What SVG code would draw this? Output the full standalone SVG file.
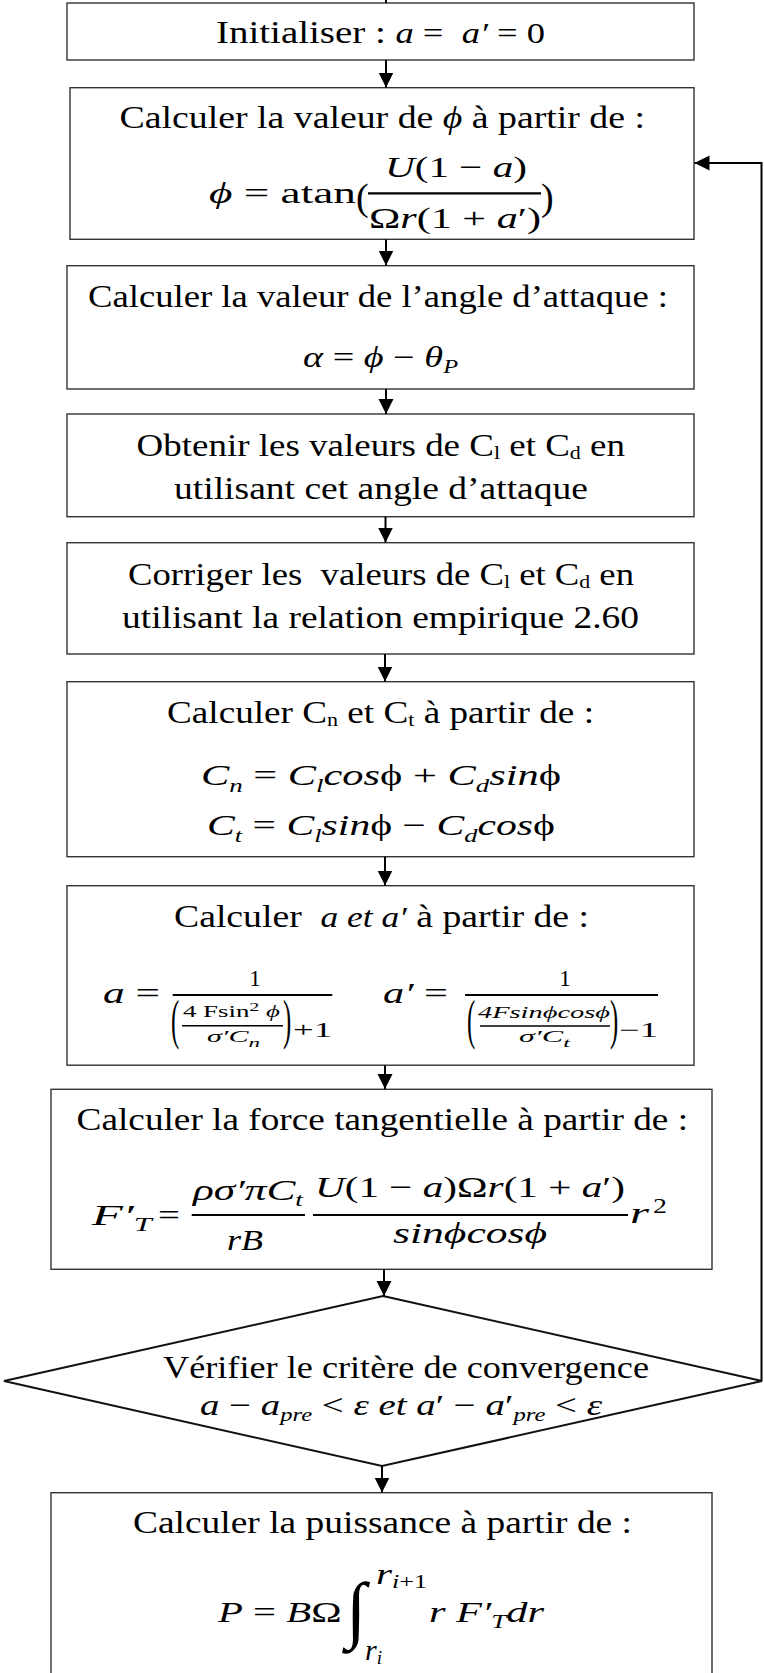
<svg xmlns="http://www.w3.org/2000/svg" width="764" height="1673" viewBox="0 0 764 1673">
<defs>
<marker id="ah" markerUnits="userSpaceOnUse" markerWidth="16" markerHeight="16" refX="15" refY="7.5" orient="auto">
<path d="M0,0 L15,7.5 L0,15 z" fill="#000"/>
</marker>
<style>
.box{fill:#fff;stroke:#333;stroke-width:1.4}
.dia{fill:#fff;stroke:#111;stroke-width:2}
.c{fill:none;stroke:#000;stroke-width:2}
.a{marker-end:url(#ah)}
text{fill:#000}
.t{font-family:"Liberation Serif",serif;font-size:32px}
.m{font-family:"Liberation Serif",serif;font-size:30px}
.i{font-style:italic}
.n{font-style:normal}
.s{font-size:19px}
.bar{stroke:#000;stroke-width:2.2}
.bar2{stroke:#000;stroke-width:1.5}
.p{font-family:"Liberation Serif",serif;font-size:55px}
</style>
</defs>
<rect width="764" height="1673" fill="#fff"/>

<g id="n1">
<rect class="box" x="67" y="3" width="627" height="57"/>
<text class="t" x="216" y="43" textLength="329" lengthAdjust="spacingAndGlyphs" xml:space="preserve">Initialiser : <tspan class="m i">a</tspan><tspan class="m"> =  </tspan><tspan class="m i">a′</tspan><tspan class="m"> = 0</tspan></text>
</g>

<g id="n2">
<rect class="box" x="70" y="87.7" width="624" height="151.6"/>
<text class="t" x="119.5" y="128" textLength="525.5" lengthAdjust="spacingAndGlyphs">Calculer la valeur de <tspan class="i">ϕ</tspan> à partir de :</text>
<text class="m" x="209" y="203" textLength="147" lengthAdjust="spacingAndGlyphs"><tspan class="i">ϕ</tspan> = atan</text>
<text class="m" x="356" y="210" style="font-size:38px">(</text>
<text class="m" x="385" y="177" textLength="142" lengthAdjust="spacingAndGlyphs"><tspan class="i">U</tspan>(1 − <tspan class="i">a</tspan>)</text>
<line class="bar" x1="368" y1="193.3" x2="541" y2="193.3"/>
<text class="m" x="369" y="228" textLength="172" lengthAdjust="spacingAndGlyphs">Ω<tspan class="i">r</tspan>(1 + <tspan class="i">a</tspan>′)</text>
<text class="m" x="541" y="210" style="font-size:38px">)</text>
</g>

<g id="n3">
<rect class="box" x="67" y="265.7" width="627" height="123.3"/>
<text class="t" x="88" y="306.7" textLength="580" lengthAdjust="spacingAndGlyphs">Calculer la valeur de l’angle d’attaque :</text>
<text class="m" x="303" y="366.7" textLength="155" lengthAdjust="spacingAndGlyphs"><tspan class="i">α</tspan> = <tspan class="i">ϕ</tspan> − <tspan class="i">θ</tspan><tspan class="i s" dy="6">P</tspan></text>
</g>

<g id="n4">
<rect class="box" x="67" y="414" width="627" height="102.7"/>
<text class="t" x="136.6" y="456" textLength="488.4" lengthAdjust="spacingAndGlyphs">Obtenir les valeurs de C<tspan class="s" dy="3">l</tspan><tspan dy="-3"> et C</tspan><tspan class="s" dy="3">d</tspan><tspan dy="-3"> en</tspan></text>
<text class="t" x="174" y="499.3" textLength="414" lengthAdjust="spacingAndGlyphs">utilisant cet angle d’attaque</text>
</g>

<g id="n5">
<rect class="box" x="67" y="542.7" width="627" height="111.3"/>
<text class="t" x="128" y="585" textLength="506" lengthAdjust="spacingAndGlyphs" xml:space="preserve">Corriger les  valeurs de C<tspan class="s" dy="3">l</tspan><tspan dy="-3"> et C</tspan><tspan class="s" dy="3">d</tspan><tspan dy="-3"> en</tspan></text>
<text class="t" x="122" y="628.3" textLength="517" lengthAdjust="spacingAndGlyphs">utilisant la relation empirique 2.60</text>
</g>

<g id="n6">
<rect class="box" x="67" y="681.7" width="627" height="175"/>
<text class="t" x="167" y="722.7" textLength="427" lengthAdjust="spacingAndGlyphs">Calculer C<tspan class="s" dy="3">n</tspan><tspan dy="-3"> et C</tspan><tspan class="s" dy="3">t</tspan><tspan dy="-3"> à partir de :</tspan></text>
<text class="m" x="201" y="785" textLength="360" lengthAdjust="spacingAndGlyphs"><tspan class="i">C</tspan><tspan class="i s" dy="7">n</tspan><tspan dy="-7"> = </tspan><tspan class="i">C</tspan><tspan class="i s" dy="7">l</tspan><tspan class="i" dy="-7">cos</tspan>ϕ + <tspan class="i">C</tspan><tspan class="i s" dy="7">d</tspan><tspan class="i" dy="-7">sin</tspan>ϕ</text>
<text class="m" x="207" y="835" textLength="348" lengthAdjust="spacingAndGlyphs"><tspan class="i">C</tspan><tspan class="i s" dy="7">t</tspan><tspan dy="-7"> = </tspan><tspan class="i">C</tspan><tspan class="i s" dy="7">l</tspan><tspan class="i" dy="-7">sin</tspan>ϕ − <tspan class="i">C</tspan><tspan class="i s" dy="7">d</tspan><tspan class="i" dy="-7">cos</tspan>ϕ</text>
</g>

<g id="n7">
<rect class="box" x="67" y="885.7" width="627" height="179.5"/>
<text class="t" x="174" y="926.7" textLength="415" lengthAdjust="spacingAndGlyphs" xml:space="preserve">Calculer  <tspan class="m i">a et a′</tspan> à partir de :</text>
<text class="m" x="103" y="1003.3" textLength="57" lengthAdjust="spacingAndGlyphs"><tspan class="i">a</tspan> =</text>
<text class="m" x="255" y="986" style="font-size:23px" text-anchor="middle">1</text>
<line class="bar" x1="172.7" y1="995" x2="332.3" y2="995"/>
<text class="p" transform="translate(171,1038) scale(0.45,1)">(</text>
<text class="m" x="183" y="1017" style="font-size:16px" textLength="97" lengthAdjust="spacingAndGlyphs">4 Fsin<tspan dy="-6" style="font-size:12px">2</tspan><tspan dy="6" class="i"> ϕ</tspan></text>
<line class="bar2" x1="182" y1="1025.7" x2="283" y2="1025.7"/>
<text class="m i" x="207" y="1042" style="font-size:17px" textLength="53" lengthAdjust="spacingAndGlyphs">σ′C<tspan dy="5" style="font-size:13px">n</tspan></text>
<text class="p" transform="translate(283,1038) scale(0.45,1)">)</text>
<text class="m" x="293" y="1037" style="font-size:21px" textLength="39" lengthAdjust="spacingAndGlyphs">+1</text>
<text class="m" x="383" y="1003.3" textLength="65" lengthAdjust="spacingAndGlyphs"><tspan class="i">a′</tspan> =</text>
<text class="m" x="565" y="986" style="font-size:23px" text-anchor="middle">1</text>
<line class="bar" x1="465" y1="995" x2="658" y2="995"/>
<text class="p" transform="translate(467,1038) scale(0.45,1)">(</text>
<text class="m i" x="478" y="1018" style="font-size:16px" textLength="132" lengthAdjust="spacingAndGlyphs">4Fsinϕcosϕ</text>
<line class="bar2" x1="480" y1="1026" x2="610" y2="1026"/>
<text class="m i" x="519" y="1042" style="font-size:17px" textLength="51" lengthAdjust="spacingAndGlyphs">σ′C<tspan dy="5" style="font-size:13px">t</tspan></text>
<text class="p" transform="translate(610,1038) scale(0.45,1)">)</text>
<text class="m" x="619" y="1037" style="font-size:21px" textLength="39" lengthAdjust="spacingAndGlyphs">−1</text>
</g>

<g id="n8">
<rect class="box" x="51" y="1089.3" width="661" height="180"/>
<text class="t" x="76.6" y="1130" textLength="611.4" lengthAdjust="spacingAndGlyphs">Calculer la force tangentielle à partir de :</text>
<text class="m i" x="91.7" y="1225" textLength="60" lengthAdjust="spacingAndGlyphs">F′<tspan class="s" dy="6">T</tspan></text>
<text class="m" x="158" y="1225" textLength="22" lengthAdjust="spacingAndGlyphs">=</text>
<text class="m i" x="193" y="1200" textLength="110" lengthAdjust="spacingAndGlyphs">ρσ′πC<tspan class="s" dy="6">t</tspan></text>
<line class="bar" x1="191.7" y1="1215" x2="305" y2="1215"/>
<text class="m i" x="227" y="1250" textLength="36" lengthAdjust="spacingAndGlyphs">rB</text>
<text class="m" x="315" y="1197" textLength="310" lengthAdjust="spacingAndGlyphs"><tspan class="i">U</tspan>(1 − <tspan class="i">a</tspan>)Ω<tspan class="i">r</tspan>(1 + <tspan class="i">a</tspan>′)</text>
<line class="bar" x1="313" y1="1215" x2="628" y2="1215"/>
<text class="m i" x="393" y="1243" textLength="154" lengthAdjust="spacingAndGlyphs">sinϕcosϕ</text>
<text class="m i" x="630" y="1223" textLength="19" lengthAdjust="spacingAndGlyphs">r</text>
<text class="m" x="653" y="1213" style="font-size:21px" textLength="14" lengthAdjust="spacingAndGlyphs">2</text>
</g>

<g id="n9">
<polygon class="dia" points="383,1296 762,1381 382,1466 4,1381"/>
<text class="t" x="163" y="1378.3" textLength="486" lengthAdjust="spacingAndGlyphs">Vérifier le critère de convergence</text>
<text class="m" x="200" y="1415" textLength="402" lengthAdjust="spacingAndGlyphs"><tspan class="i">a</tspan> − <tspan class="i">a</tspan><tspan class="i s" dy="6">pre</tspan><tspan dy="-6"> &lt; </tspan><tspan class="i">ε et a</tspan>′ − <tspan class="i">a</tspan>′<tspan class="i s" dy="6">pre</tspan><tspan dy="-6"> &lt; </tspan><tspan class="i">ε</tspan></text>
</g>

<g id="n10">
<rect class="box" x="51" y="1492.7" width="661" height="200"/>
<text class="t" x="133" y="1533" textLength="499" lengthAdjust="spacingAndGlyphs">Calculer la puissance à partir de :</text>
<text class="m" x="218" y="1622" textLength="123.5" lengthAdjust="spacingAndGlyphs"><tspan class="i">P</tspan> = <tspan class="i">B</tspan>Ω</text>
<text class="m" x="346" y="1634" style="font-size:74px">∫</text>
<text class="m i" x="376" y="1584" textLength="51" lengthAdjust="spacingAndGlyphs">r<tspan class="s" dy="4">i</tspan><tspan class="s n">+1</tspan></text>
<text class="m i" x="365" y="1660">r<tspan class="s" dy="4">i</tspan></text>
<text class="m i" x="429" y="1622" textLength="115" lengthAdjust="spacingAndGlyphs">r F′<tspan class="s" dy="6">T</tspan><tspan dy="-6">dr</tspan></text>
</g>

<g id="connectors">
<line class="c" x1="386" y1="0" x2="386" y2="3"/>
<line class="c a" x1="386" y1="60" x2="386" y2="87.5"/>
<line class="c a" x1="386" y1="239.5" x2="386" y2="265.5"/>
<line class="c a" x1="386" y1="389" x2="386" y2="414"/>
<line class="c a" x1="385.5" y1="516.7" x2="385.5" y2="542.5"/>
<line class="c a" x1="385" y1="654" x2="385" y2="681.5"/>
<line class="c a" x1="385" y1="856.7" x2="385" y2="885.5"/>
<line class="c a" x1="385" y1="1065.5" x2="385" y2="1089"/>
<line class="c a" x1="384" y1="1269.5" x2="384" y2="1296"/>
<line class="c a" x1="382" y1="1466" x2="382" y2="1492.5"/>
<polyline class="c a" points="761.5,1381 761.5,163 694.5,163"/>
</g>
</svg>
